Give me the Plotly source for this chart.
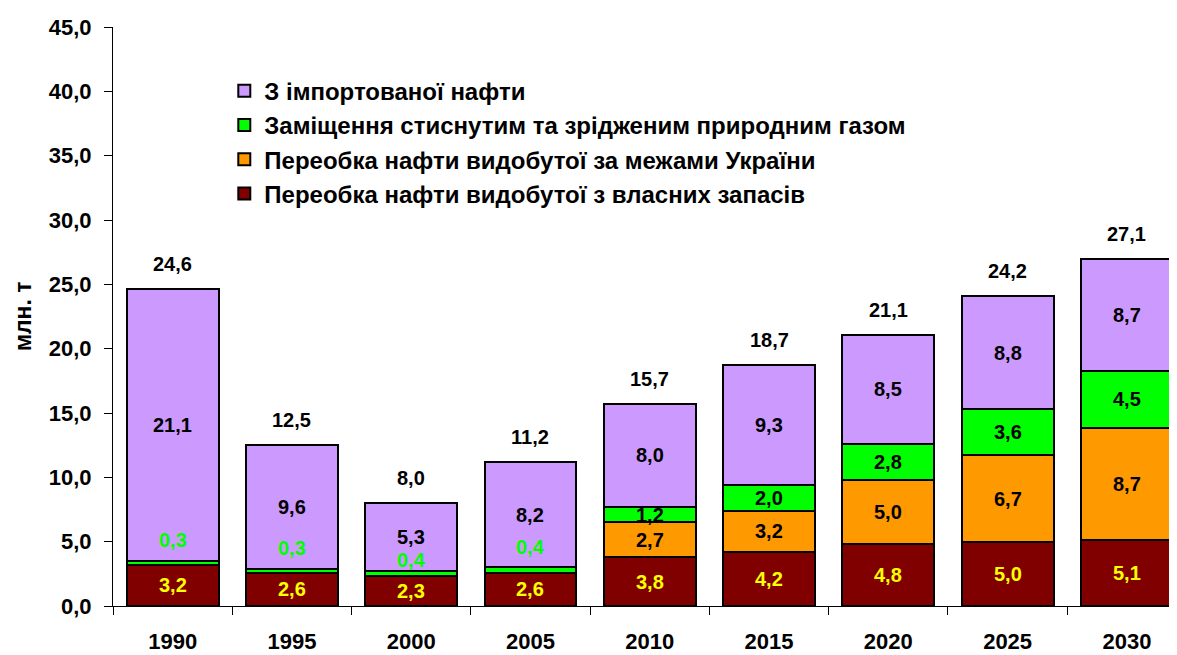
import plotly.graph_objects as go

years = ["1990", "1995", "2000", "2005", "2010", "2015", "2020", "2025", "2030"]
own = [3.2, 2.6, 2.3, 2.6, 3.8, 4.2, 4.8, 5.0, 5.1]
outside = [None, None, None, None, 2.7, 3.2, 5.0, 6.7, 8.7]
gas = [0.3, 0.3, 0.4, 0.4, 1.2, 2.0, 2.8, 3.6, 4.5]
imported = [21.1, 9.6, 5.3, 8.2, 8.0, 9.3, 8.5, 8.8, 8.7]
totals = [24.6, 12.5, 8.0, 11.2, 15.7, 18.7, 21.1, 24.2, 27.1]

names = [
    "Переобка нафти видобутої з власних запасів",
    "Переобка нафти видобутої за межами України",
    "Заміщення стиснутим та зрідженим природним газом",
    "З імпортованої нафти",
]
colors = ["#800000", "#FF9900", "#00FF00", "#CC99FF"]
series = [own, outside, gas, imported]

FONT = "Liberation Sans, Arial, sans-serif"

fig = go.Figure()
for name, col, vals in zip(names, colors, series):
    fig.add_trace(go.Bar(
        x=years, y=vals, name=name,
        marker=dict(color=col, line=dict(color="black", width=2)),
    ))

def fmt(v):
    return f"{v:.1f}".replace(".", ",")

def lab(color):
    return dict(color=color, size=20, family=FONT, weight="bold")

ann = []
for i, yr in enumerate(years):
    base = 0.0
    segs = []
    for k, vals in enumerate(series):
        v = vals[i]
        if v is None:
            segs.append(None)
            continue
        segs.append((base, base + v, v))
        base += v
    imp_mid = (segs[3][0] + segs[3][1]) / 2
    for k, s in enumerate(segs):
        if s is None:
            continue
        b, t, v = s
        mid = (b + t) / 2
        if k == 0:
            ann.append(dict(x=i, y=mid, text=fmt(v), showarrow=False, font=lab("#FFFF00")))
        elif k == 2 and v < 1.0:
            ypos = min(t + 1.6, imp_mid - 1.8)
            ann.append(dict(x=i, y=ypos, text=fmt(v), showarrow=False, font=lab("#00FF00")))
        else:
            ann.append(dict(x=i, y=mid, text=fmt(v), showarrow=False, font=lab("black")))
    ann.append(dict(x=i, y=base, text=fmt(totals[i]), showarrow=False, yanchor="bottom", yshift=12,
                    font=lab("black")))

ann.append(dict(xref="paper", yref="paper", x=-0.085, y=0.5, xanchor="center", yanchor="middle",
                text="млн. т", textangle=-90, showarrow=False,
                font=dict(color="black", size=23, family=FONT, weight="bold")))

fig.update_layout(
    barmode="stack",
    bargap=0.23,
    width=1169, height=647,
    margin=dict(l=105, r=0, t=19, b=49),
    paper_bgcolor="white", plot_bgcolor="white",
    separators=", ",
    font=dict(family=FONT, color="black"),
    showlegend=True,
    legend=dict(
        x=0.1046, y=0.928, xanchor="left", yanchor="top",
        traceorder="reversed",
        font=dict(size=24, family=FONT, weight="bold", color="black"),
        bgcolor="rgba(0,0,0,0)",
        tracegroupgap=0, itemwidth=30,
    ),
    annotations=ann,
)
fig.update_xaxes(
    type="category", range=[-0.5, 8.42],
    showline=True, linecolor="black", linewidth=1,
    ticks="outside", ticklen=8, tickcolor="black", tickson="boundaries",
    tickfont=dict(size=22, family=FONT, weight="bold", color="black"),
    ticklabelstandoff=16, showgrid=False,
)
fig.update_yaxes(
    range=[0, 45], dtick=5, tickformat=".1f",
    showline=True, linecolor="black", linewidth=1,
    ticks="outside", ticklen=8, tickcolor="black",
    tickfont=dict(size=22, family=FONT, weight="bold", color="black"),
    ticklabelstandoff=8, showgrid=False, zeroline=False,
)

fig.write_html("out.html")
